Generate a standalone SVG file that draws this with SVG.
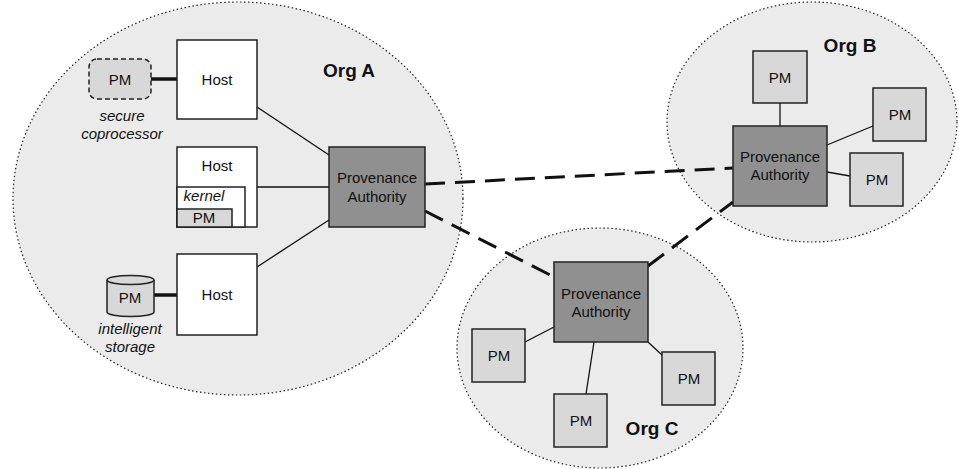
<svg xmlns="http://www.w3.org/2000/svg" width="959" height="469" viewBox="0 0 959 469">
<style>
text{font-family:"Liberation Sans",Arial,sans-serif;fill:#111;text-anchor:middle}
.t{font-size:15px}
.pa{font-size:15px}
.it{font-size:15px;font-style:italic}
.org{font-size:19px;font-weight:bold}
.ell{fill:#ebebeb;stroke:#222;stroke-width:1.2;stroke-dasharray:1.5 2.5}
.host{fill:#fff;stroke:#222;stroke-width:1.5}
.pm{fill:#d8d8d8;stroke:#222;stroke-width:1.5}
.pab{fill:#909090;stroke:#222;stroke-width:1.5}
.ln{stroke:#111;stroke-width:1.3;fill:none}
.thick{stroke:#111;stroke-width:3.5;fill:none}
.dash{stroke:#111;stroke-width:3;fill:none;stroke-dasharray:20 10}
</style>
<g id="orgA-region"><ellipse class="ell" cx="238" cy="198.5" rx="225" ry="196.5"/></g>
<g id="orgB-region"><ellipse class="ell" cx="812" cy="122" rx="145" ry="120"/></g>
<g id="orgC-region"><ellipse class="ell" cx="600" cy="348" rx="143" ry="120"/></g>

<g id="connectors">
<line class="ln" x1="257" y1="107" x2="329" y2="155"/>
<line class="ln" x1="257" y1="187" x2="329" y2="187"/>
<line class="ln" x1="257" y1="267" x2="329" y2="220"/>
<line class="thick" x1="151" y1="79" x2="177" y2="79"/>
<line class="thick" x1="154" y1="295" x2="177" y2="295"/>
<line class="ln" x1="780" y1="103" x2="780" y2="126"/>
<line class="ln" x1="827" y1="145" x2="873" y2="126"/>
<line class="ln" x1="827" y1="172" x2="850" y2="176"/>
<line class="ln" x1="554" y1="327" x2="525" y2="342"/>
<line class="ln" x1="594" y1="342" x2="586" y2="394"/>
<line class="ln" x1="648" y1="342" x2="662" y2="355"/>
<line class="dash" x1="425" y1="184" x2="733" y2="168"/>
<line class="dash" x1="425" y1="211" x2="554" y2="277"/>
<line class="dash" x1="648" y1="266" x2="733" y2="202"/>
</g>

<g id="orgA-label"><text class="org" x="349" y="77">Org A</text></g>
<g id="orgB-label"><text class="org" x="850" y="52">Org B</text></g>
<g id="orgC-label"><text class="org" x="652" y="435">Org C</text></g>

<g id="pm-secure">
<rect x="89" y="59" width="62" height="40" rx="8" fill="#d8d8d8" stroke="#222" stroke-width="1.5" stroke-dasharray="5 3"/>
<text class="t" x="120" y="84.5">PM</text>
<text class="it" x="122" y="120.5">secure</text>
<text class="it" x="122" y="138.5">coprocessor</text>
</g>
<g id="host1"><rect class="host" x="177" y="40" width="80" height="79"/><text class="t" x="217" y="84.5">Host</text></g>
<g id="host2">
<rect class="host" x="177" y="147" width="80" height="80"/>
<text class="t" x="217" y="170.5">Host</text>
<rect class="host" x="177" y="187" width="68" height="40"/>
<text class="it" x="204" y="201">kernel</text>
<rect class="pm" x="177" y="209" width="55" height="18"/>
<text class="t" x="204" y="223">PM</text>
</g>
<g id="host3"><rect class="host" x="177" y="254" width="80" height="81"/><text class="t" x="217" y="299.5">Host</text></g>
<g id="pm-storage">
<path d="M107,280 L107,312 A23.5,4.5 0 0 0 154,312 L154,280" fill="#d8d8d8" stroke="#222" stroke-width="1.5"/>
<ellipse cx="130.5" cy="280" rx="23.5" ry="4.5" fill="#d8d8d8" stroke="#222" stroke-width="1.5"/>
<text class="t" x="130" y="302.5">PM</text>
<text class="it" x="130" y="333.5">intelligent</text>
<text class="it" x="130" y="351.5">storage</text>
</g>
<g id="paA"><rect class="pab" x="329" y="147" width="96" height="80"/><text class="pa" x="377" y="182.5">Provenance</text><text class="pa" x="377" y="201.5">Authority</text></g>

<g id="paB"><rect class="pab" x="733" y="126" width="94" height="80"/><text class="pa" x="780" y="161.5">Provenance</text><text class="pa" x="780" y="179.5">Authority</text></g>
<g id="pmB1"><rect class="pm" x="753" y="51" width="54" height="52"/><text class="t" x="780" y="82.5">PM</text></g>
<g id="pmB2"><rect class="pm" x="873" y="88" width="53" height="53"/><text class="t" x="900" y="120">PM</text></g>
<g id="pmB3"><rect class="pm" x="850" y="153" width="53" height="53"/><text class="t" x="877" y="185">PM</text></g>

<g id="paC"><rect class="pab" x="554" y="262" width="94" height="80"/><text class="pa" x="601" y="298.5">Provenance</text><text class="pa" x="601" y="316.5">Authority</text></g>
<g id="pmC1"><rect class="pm" x="472" y="329" width="53" height="53"/><text class="t" x="499" y="361">PM</text></g>
<g id="pmC2"><rect class="pm" x="554" y="394" width="53" height="53"/><text class="t" x="581" y="426">PM</text></g>
<g id="pmC3"><rect class="pm" x="662" y="352" width="53" height="53"/><text class="t" x="689" y="384">PM</text></g>
</svg>
